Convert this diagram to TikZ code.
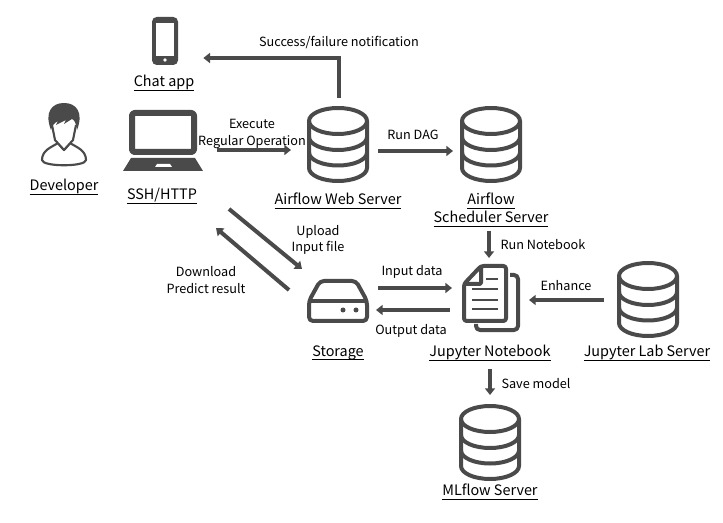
\documentclass[tikz,border=0pt]{standalone}
\usepackage{fontspec}
\setmainfont{Noto Sans CJK JP}
\usetikzlibrary{arrows.meta, calc}
\definecolor{icongray}{HTML}{4A4A4A}
\newcommand{\nameline}[1]{\leavevmode\setbox0=\hbox{#1}\dp0=0pt\vtop{\box0\kern2.2pt\hrule height 0.9pt}}
\tikzset{
  flow/.style = {icongray, line width = 3pt, -{Triangle[length = 5pt, width = 7.5pt]}},
  icon/.style = {inner sep = 0pt, outer sep = 0pt},
  iconname/.style = {black, yshift = -1.5pt, font = \fontsize{10.8}{13.5}\selectfont, align = center},
  note/.style = {black, yshift = -1.5pt, font = \fontsize{9.5}{12.5}\selectfont, align = center},
  stroke/.style = {icongray, line width = 3pt, line join = round},
  dbicon/.pic = {
    \draw [stroke] (0,-24) ellipse (29 and 13);
    \draw [stroke] (-29,-24) -- (-29,23) arc (180:0:29 and 13) -- (29,-24);
    \draw [stroke] (-29,-8) arc (180:0:29 and 13);
    \draw [stroke] (-29,7.5) arc (180:0:29 and 13);
  },
}
\begin{document}
\begin{tikzpicture} [x = 0.75pt, y = -0.75pt]
\useasboundingbox (0,0) rectangle (723,523);
% icons
\node [icon, minimum width = 20pt, minimum height = 36pt] (phone) at (165,41) {};
\node [icon, minimum width = 60pt, minimum height = 46.5pt] (laptop) at (163,140) {};
\node [icon, minimum width = 34.5pt, minimum height = 48pt] (person) at (64,135) {};
\node [icon, minimum width = 46.5pt, minimum height = 58.5pt] (web) at (338,145) {};
\node [icon, minimum width = 46.5pt, minimum height = 58.5pt] (scheduler) at (491,145) {};
\node [icon, minimum width = 46.5pt, minimum height = 58.5pt] (lab) at (648,300) {};
\node [icon, minimum width = 46.5pt, minimum height = 58.5pt] (mlflow) at (490,443) {};
\node [icon, minimum width = 46.5pt, minimum height = 34.5pt] (storage) at (338,301) {};
\node [icon, minimum width = 43.5pt, minimum height = 51pt] (notebook) at (491,298) {};
\pic at (web) {dbicon};
\pic at (scheduler) {dbicon};
\pic at (lab) {dbicon};
\pic at (mlflow) {dbicon};
% phone
\fill [icongray, rounded corners = 3.5pt] (152,17) rectangle (178,65);
\fill [white] (156,23) rectangle (174,56);
\fill [white] (165,60) circle (1.8);
% laptop
\draw [stroke, line width = 4.5pt, fill = white, rounded corners = 2pt] (132,113) rectangle (194,152);
\fill [icongray] (131,158) -- (195,158) -- (203,171) -- (123,171) -- cycle;
\fill [white] (155,167) -- (157,164) -- (170,164) -- (172,167) -- cycle;
% person
\draw [stroke, line width = 1.6pt, fill = white] (42,160) .. controls (42,150) and (52,147) .. (58,143) -- (64,150) -- (70,143) .. controls (76,147) and (86,150) .. (86,160) .. controls (86,167) and (42,167) .. (42,160) -- cycle;
\draw [stroke, line width = 1.6pt, fill = white] (52,125) -- (55,140) -- (64,150) -- (73,140) -- (76,125);
\fill [icongray] (51,130) .. controls (44,112) and (52,103) .. (64,103) .. controls (76,103) and (84,112) .. (77,130) .. controls (76,122) and (74,120) .. (72,119) -- (64,124) -- (66,120) -- (56,125) -- (58,121) .. controls (54,123) and (52,126) .. (51,130) -- cycle;
% storage
\draw [stroke, rounded corners = 3pt] (320,281) -- (356,281) -- (367,301) -- (367,321) -- (309,321) -- (309,301) -- cycle;
\draw [stroke] (309,301) -- (367,301);
\fill [icongray] (343,310) circle (2.5) (356,310) circle (2.5);
% notebook
\draw [stroke, rounded corners = 3pt] (510,275) -- (518,275) -- (518,330) -- (476,330) -- (476,324);
\draw [stroke, rounded corners = 2pt, fill = white] (481,266) -- (506,266) -- (506,321) -- (464,321) -- (464,284) -- cycle;
\draw [stroke, rounded corners = 1pt] (481,266) -- (481,284) -- (464,284);
\draw [stroke, line width = 2pt] (486,279) -- (498,279);
\foreach \s in {289,300,309} {
  \draw [stroke, line width = 2pt] (472,\s) -- (498,\s);
}
% connectors
\draw [flow] ($(web.north)+(1,-8)$) |- ($(phone.east)+(25,17)$);
\draw [flow] ($(laptop.east)+(14,10)$) -- ($(web.west)+(-16,5)$);
\draw [flow] ($(web.east)+(9,6)$) -- ($(scheduler.west)+(-7,6)$);
\draw [flow] ($(scheduler.south)+(-2,47)$) -- ($(notebook.north)+(-2,-6)$);
\draw [flow] ($(lab.west)+(-13,0)$) -- ($(notebook.east)+(9,2)$);
\draw [flow] ($(storage.east)+(9,-13)$) -- ($(notebook.west)+(-10,-10)$);
\draw [flow] ($(notebook.west)+(-12,12)$) -- ($(storage.east)+(7,9)$);
\draw [flow] ($(notebook.south)+(-1,37)$) -- ($(mlflow.north)+(0,-9)$);
\draw [flow] ($(laptop.south)+(66,38)$) -- ($(storage.north)+(-36,-9)$);
\draw [flow] ($(storage.west)+(-18,-11)$) -- ($(laptop.south)+(53,57)$);
% labels
\node [iconname] (chat name) at (164,81) {\nameline{Chat app}};
\node [iconname] (developer name) at (64,185) {\nameline{Developer}};
\node [iconname] (ssh name) at (162,194) {\nameline{SSH/HTTP}};
\node [iconname] (web name) at (338,199) {\nameline{Airflow Web Server}};
\node [iconname] (scheduler name) at (491,208) {\nameline{Airflow}\\\nameline{Scheduler Server}};
\node [iconname] (storage name) at (338,351) {\nameline{Storage}};
\node [iconname] (notebook name) at (490,351) {\nameline{Jupyter Notebook}};
\node [iconname] (lab name) at (647,351) {\nameline{Jupyter Lab Server}};
\node [iconname] (mlflow name) at (490,490) {\nameline{MLflow Server}};
\node [note] (success note) at (339,41) {Success/failure notification};
\node [note] (execute note) at (252,132) {Execute\\Regular Operation};
\node [note] (dag note) at (413,133) {Run DAG};
\node [note] (upload note) at (318,238) {Upload\\Input file};
\node [note] (download note) at (206,278) {Download\\Predict result};
\node [note] (run note) at (543,243) {Run Notebook};
\node [note] (input note) at (412,270) {Input data};
\node [note] (output note) at (411,329) {Output data};
\node [note] (enhance note) at (566,284) {Enhance};
\node [note] (save note) at (536,382) {Save model};
\end{tikzpicture}
\end{document}
